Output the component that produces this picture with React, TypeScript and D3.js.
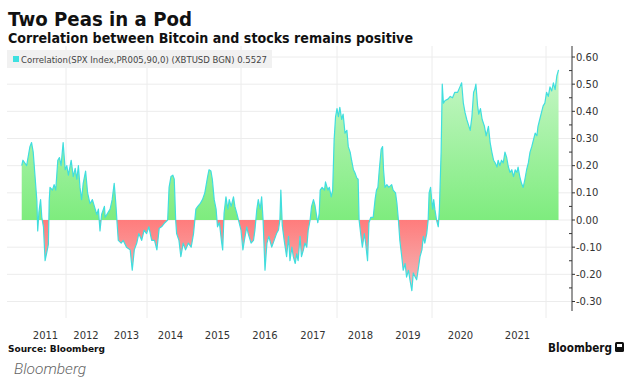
import * as d3 from 'd3';

// 90-day correlation, SPX vs XBTUSD as [decimal year, value]
const corr: [number, number][] = [
  [2010.92, 0.2], [2010.95, 0.22], [2011.04, 0.2], [2011.12, 0.27], [2011.16, 0.285], [2011.2, 0.25],
  [2011.24, 0.17], [2011.29, 0.07], [2011.31, -0.04], [2011.34, 0.03], [2011.38, 0.075], [2011.41, 0.01],
  [2011.45, -0.025], [2011.49, -0.15], [2011.53, -0.12], [2011.57, -0.09], [2011.59, 0.07], [2011.61, 0.12],
  [2011.67, 0.11], [2011.71, 0.13], [2011.75, 0.11], [2011.8, 0.22], [2011.84, 0.23], [2011.88, 0.2],
  [2011.93, 0.285], [2011.98, 0.185],
  [2012.02, 0.2], [2012.06, 0.165], [2012.13, 0.22], [2012.18, 0.16], [2012.23, 0.19], [2012.27, 0.15],
  [2012.31, 0.2], [2012.35, 0.12], [2012.39, 0.075], [2012.43, 0.135], [2012.49, 0.18], [2012.54, 0.1],
  [2012.6, 0.06], [2012.66, 0.075], [2012.73, 0.04], [2012.77, 0.02], [2012.81, 0.04], [2012.85, -0.04],
  [2012.89, 0.02], [2012.96, 0.05], [2012.98, 0.01],
  [2013.1, 0.04], [2013.15, 0.075], [2013.2, 0.135], [2013.24, 0.06], [2013.27, -0.01], [2013.3, -0.075],
  [2013.37, -0.085], [2013.42, -0.075], [2013.5, -0.1], [2013.59, -0.11], [2013.64, -0.185], [2013.69, -0.11],
  [2013.75, -0.085], [2013.8, -0.05], [2013.87, -0.075], [2013.93, -0.037], [2013.99, -0.05],
  [2014.04, -0.025], [2014.1, -0.075], [2014.16, -0.075], [2014.21, -0.11], [2014.26, -0.03], [2014.31, -0.025],
  [2014.38, -0.01], [2014.44, 0.0], [2014.47, 0.12], [2014.51, 0.16], [2014.55, 0.165], [2014.58, 0.15],
  [2014.61, 0.0], [2014.63, -0.05], [2014.68, -0.075], [2014.72, -0.135], [2014.77, -0.085], [2014.82, -0.11],
  [2014.88, -0.085], [2014.94, -0.1], [2014.99, -0.05],
  [2015.04, 0.04], [2015.08, 0.05], [2015.13, 0.06], [2015.18, 0.075], [2015.23, 0.1], [2015.29, 0.16],
  [2015.32, 0.185], [2015.36, 0.18], [2015.39, 0.15], [2015.43, 0.075], [2015.47, 0.04], [2015.5, -0.025],
  [2015.54, -0.01], [2015.59, -0.085], [2015.61, -0.11], [2015.64, 0.025], [2015.68, 0.085], [2015.72, 0.04],
  [2015.75, 0.075], [2015.79, 0.05], [2015.84, 0.085], [2015.87, 0.05], [2015.91, 0.025], [2015.96, -0.01],
  [2016.0, -0.037], [2016.04, -0.11], [2016.07, -0.075], [2016.12, -0.025], [2016.15, -0.05], [2016.21, -0.085],
  [2016.26, -0.075], [2016.29, -0.037], [2016.33, 0.04], [2016.36, 0.075], [2016.4, 0.04], [2016.43, 0.085],
  [2016.46, 0.0], [2016.5, -0.185], [2016.54, -0.085], [2016.58, -0.06], [2016.64, -0.1], [2016.69, -0.075],
  [2016.74, -0.05], [2016.78, -0.037], [2016.81, 0.0], [2016.83, 0.11], [2016.86, -0.02], [2016.9, -0.075],
  [2016.95, -0.135], [2016.99, -0.06],
  [2017.02, -0.15], [2017.06, -0.1], [2017.09, -0.135], [2017.13, -0.16], [2017.16, -0.125], [2017.19, -0.15],
  [2017.23, -0.06], [2017.26, -0.135], [2017.3, -0.11], [2017.33, -0.085], [2017.37, -0.1], [2017.4, -0.037],
  [2017.44, 0.0], [2017.47, 0.05], [2017.51, 0.075], [2017.54, 0.055], [2017.58, 0.01], [2017.6, -0.01],
  [2017.63, 0.025], [2017.65, 0.11], [2017.69, 0.12], [2017.74, 0.11], [2017.76, 0.14], [2017.81, 0.11],
  [2017.84, 0.12], [2017.88, 0.085], [2017.91, 0.11], [2017.94, 0.295], [2017.97, 0.38],
  [2018.0, 0.41], [2018.03, 0.38], [2018.06, 0.415], [2018.1, 0.37], [2018.13, 0.39], [2018.17, 0.32],
  [2018.21, 0.33], [2018.24, 0.27], [2018.28, 0.25], [2018.31, 0.22], [2018.35, 0.185], [2018.38, 0.175],
  [2018.42, 0.155], [2018.45, 0.15], [2018.47, 0.0], [2018.51, -0.06], [2018.54, -0.1], [2018.58, -0.05],
  [2018.61, -0.085], [2018.65, -0.15], [2018.68, -0.01], [2018.72, 0.01], [2018.77, 0.01], [2018.81, 0.075],
  [2018.84, 0.11], [2018.87, 0.12], [2018.9, 0.185], [2018.94, 0.26], [2018.97, 0.27], [2018.99, 0.185],
  [2019.02, 0.12], [2019.06, 0.13], [2019.1, 0.12], [2019.16, 0.13], [2019.19, 0.11], [2019.24, 0.1],
  [2019.27, 0.06], [2019.3, 0.0], [2019.33, -0.075], [2019.37, -0.135], [2019.4, -0.185], [2019.44, -0.16],
  [2019.47, -0.21], [2019.51, -0.185], [2019.54, -0.22], [2019.58, -0.26], [2019.61, -0.195], [2019.65, -0.21],
  [2019.68, -0.22], [2019.71, -0.185], [2019.75, -0.135], [2019.79, -0.11], [2019.82, -0.06], [2019.85, -0.085],
  [2019.89, -0.05], [2019.92, 0.0], [2019.94, 0.1], [2019.97, 0.12],
  [2020.01, 0.04], [2020.03, 0.075], [2020.05, 0.04], [2020.08, 0.0], [2020.11, -0.025], [2020.13, 0.04],
  [2020.16, 0.25], [2020.18, 0.5], [2020.2, 0.43], [2020.23, 0.44], [2020.28, 0.445], [2020.32, 0.455],
  [2020.36, 0.45], [2020.4, 0.47], [2020.45, 0.47], [2020.49, 0.49], [2020.52, 0.505], [2020.55, 0.43],
  [2020.58, 0.395], [2020.61, 0.37], [2020.64, 0.35], [2020.67, 0.33], [2020.7, 0.38], [2020.73, 0.47],
  [2020.75, 0.48], [2020.77, 0.5], [2020.8, 0.42], [2020.82, 0.39], [2020.85, 0.41], [2020.88, 0.37],
  [2020.92, 0.345], [2020.95, 0.31], [2020.99, 0.345],
  [2021.02, 0.285], [2021.05, 0.25], [2021.08, 0.22], [2021.11, 0.21], [2021.14, 0.195], [2021.16, 0.22],
  [2021.19, 0.2], [2021.22, 0.22], [2021.25, 0.21], [2021.28, 0.25], [2021.31, 0.23], [2021.34, 0.195],
  [2021.37, 0.175], [2021.4, 0.185], [2021.43, 0.16], [2021.46, 0.185], [2021.49, 0.175], [2021.51, 0.195],
  [2021.54, 0.16], [2021.57, 0.135], [2021.6, 0.12], [2021.63, 0.15], [2021.66, 0.185], [2021.69, 0.21],
  [2021.72, 0.25], [2021.75, 0.27], [2021.78, 0.295], [2021.81, 0.32], [2021.84, 0.31], [2021.86, 0.345],
  [2021.89, 0.37], [2021.92, 0.395], [2021.95, 0.42], [2021.98, 0.43],
  [2022.01, 0.47], [2022.04, 0.455], [2022.07, 0.49], [2022.1, 0.475], [2022.13, 0.505], [2022.16, 0.48],
  [2022.19, 0.53], [2022.22, 0.5527],
];

const yearLabels = [2011, 2012, 2013, 2014, 2015, 2016, 2017, 2018, 2019, 2020, 2021];
const gridYears = [2012, 2014, 2016, 2018, 2020, 2022];
const yTicks = [0.6, 0.5, 0.4, 0.3, 0.2, 0.1, 0, -0.1, -0.2, -0.3];
const yMinor = [0.55, 0.45, 0.35, 0.25, 0.15, 0.05, -0.05, -0.15, -0.25];

// Bloomberg's time axis isn't uniform; year boundaries as drawn
const yearStops = [2010, 2011, 2012, 2013, 2014, 2015, 2016, 2017, 2018, 2019, 2020, 2021, 2022, 2023];
const yearPx = [-16, 25, 66, 106, 147, 194, 241, 289, 337, 384, 432, 489, 546, 603];

const W = 635;
const H = 388;
const axisX = 572;
const plotTop = 46;
const plotBottom = 318;
const font = '"DejaVu Sans", Verdana, sans-serif';

export default function App() {
  const x = d3.scaleLinear().domain(yearStops).range(yearPx);
  const y = d3.scaleLinear().domain([-0.3, 0.6]).range([301.5, 57]);
  const y0 = y(0);

  const area = d3
    .area<[number, number]>()
    .x((d) => x(d[0]))
    .y0(y0)
    .y1((d) => y(d[1]));
  const line = d3
    .line<[number, number]>()
    .x((d) => x(d[0]))
    .y((d) => y(d[1]));

  return (
    <svg width={W} height={H} style={{ position: 'absolute', left: 0, top: 0, background: '#fff' }}>
      <defs>
        <linearGradient id="gPos" gradientUnits="userSpaceOnUse" x1="0" x2="0" y1={y(0.55)} y2={y0}>
          <stop offset="0" stopColor="#c6f6c6" />
          <stop offset="1" stopColor="#7eec7e" />
        </linearGradient>
        <linearGradient id="gNeg" gradientUnits="userSpaceOnUse" x1="0" x2="0" y1={y0} y2={y(-0.27)}>
          <stop offset="0" stopColor="#ff7c7c" />
          <stop offset="1" stopColor="#f3bcbc" />
        </linearGradient>
        <clipPath id="above">
          <rect x={0} y={0} width={W} height={y0} />
        </clipPath>
        <clipPath id="below">
          <rect x={0} y={y0} width={W} height={H - y0} />
        </clipPath>
      </defs>

      {/* titles */}
      <text x={8} y={26} fontFamily={font} fontWeight="bold" fontSize={19} fill="#111" textLength={184} lengthAdjust="spacingAndGlyphs">
        Two Peas in a Pod
      </text>
      <text x={8} y={42.5} fontFamily={font} fontWeight="bold" fontSize={13.5} fill="#111" textLength={405} lengthAdjust="spacingAndGlyphs">
        Correlation between Bitcoin and stocks remains positive
      </text>

      {/* grid */}
      {yTicks.map((t) => (
        <line key={'h' + t} x1={7} x2={axisX} y1={y(t)} y2={y(t)} stroke="#ececec" strokeWidth={1} />
      ))}
      {gridYears.map((g) => (
        <line key={'v' + g} x1={x(g)} x2={x(g)} y1={plotTop} y2={plotBottom} stroke="#ececec" strokeWidth={1} />
      ))}

      {/* legend */}
      <rect x={7} y={50} width={265} height={18} fill="#f1f1f1" />
      <rect x={13} y={56} width={6} height={6} fill="#3ee0e0" />
      <text x={21} y={62.5} fontFamily={font} fontSize={9} fill="#444" textLength={246} lengthAdjust="spacingAndGlyphs">
        Correlation(SPX Index,PR005,90,0) (XBTUSD BGN) 0.5527
      </text>

      {/* series */}
      <path d={area(corr) ?? ''} fill="url(#gPos)" clipPath="url(#above)" />
      <path d={area(corr) ?? ''} fill="url(#gNeg)" clipPath="url(#below)" />
      <path d={line(corr) ?? ''} fill="none" stroke="#40dede" strokeWidth={1.2} strokeLinejoin="round" />

      {/* y axis */}
      <line x1={axisX} x2={axisX} y1={plotTop} y2={plotBottom - 7} stroke="#333" strokeWidth={1} />
      {yTicks.map((t) => (
        <g key={'t' + t}>
          <line x1={axisX} x2={axisX + 3} y1={y(t)} y2={y(t)} stroke="#333" />
          <text x={axisX + 4} y={y(t) + 3.5} fontFamily={font} fontSize={10} fill="#333">
            {t < 0 ? '-' + Math.abs(t).toFixed(2) : t.toFixed(2)}
          </text>
        </g>
      ))}
      {yMinor.map((t) => (
        <line key={'m' + t} x1={axisX - 3} x2={axisX} y1={y(t)} y2={y(t)} stroke="#333" />
      ))}

      {/* x labels */}
      {yearLabels.map((yr) => (
        <text key={yr} x={x(yr + 0.5)} y={339} textAnchor="middle" fontFamily={font} fontSize={10} fill="#333">
          {yr}
        </text>
      ))}

      {/* footer */}
      <text x={8} y={352} fontFamily={font} fontWeight="bold" fontSize={9} fill="#111" textLength={97} lengthAdjust="spacingAndGlyphs">
        Source: Bloomberg
      </text>
      <text x={548} y={352} fontFamily={font} fontWeight="bold" fontSize={12} fill="#111" textLength={64} lengthAdjust="spacingAndGlyphs">
        Bloomberg
      </text>
      <rect x={615} y={342} width={9} height={10} rx={1.5} fill="#111" />
      <rect x={617} y={344} width={5} height={3} fill="#fff" />
      <text x={14} y={374} fontFamily="Roboto, sans-serif" fontStyle="italic" fontWeight={300} fontSize={15.5} fill="#666">
        Bloomberg
      </text>
    </svg>
  );
}
